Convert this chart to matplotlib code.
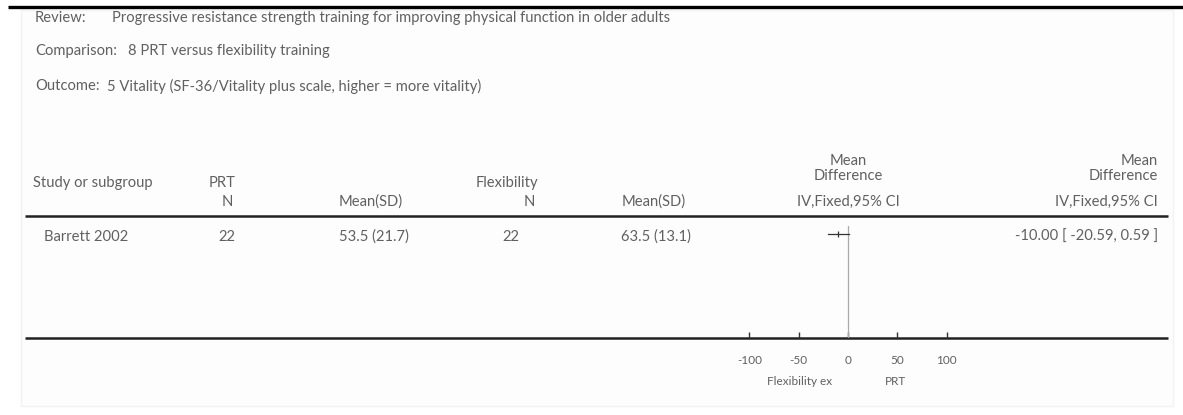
import matplotlib.pyplot as plt
from matplotlib.patches import Rectangle

review = 'Progressive resistance strength training for improving physical function in older adults'
comparison = '8 PRT versus flexibility training'
outcome = '5 Vitality (SF-36/Vitality plus scale, higher = more vitality)'

studies = ['Barrett 2002']
prt_n = [22]
prt_mean = [53.5]
prt_sd = [21.7]
flex_n = [22]
flex_mean = [63.5]
flex_sd = [13.1]
md = [-10.00]
ci_low = [-20.59]
ci_high = [0.59]

axis_ticks = [-100, -50, 0, 50, 100]
left_label = 'Flexibility ex'
right_label = 'PRT'

W, H = 1183, 415
plt.rcParams['font.family'] = ['Lato', 'DejaVu Sans']
txt = '#606060'
fs = 10.6

fig = plt.figure(figsize=(W / 100, H / 100), dpi=100)
ax = fig.add_axes([0, 0, 1, 1])
ax.set_xlim(0, W)
ax.set_ylim(H, 0)
ax.axis('off')

# frame
ax.plot([8, W], [7, 7], color='black', lw=2.4, solid_capstyle='butt')
ax.add_patch(Rectangle((21, 10), 1152, 396, facecolor='#fdfdfd', edgecolor='#f2f2f2', lw=1))

# header block
for y, lab, val, x2 in [(18, 'Review:', review, 112),
                        (51, 'Comparison:', comparison, 128),
                        (86, 'Outcome:', outcome, 107)]:
    ax.text(35, y, lab, color=txt, fontsize=fs, va='center')
    ax.text(x2, y, val, color=txt, fontsize=fs, va='center')

# column headers
ax.text(33, 183, 'Study or subgroup', color=txt, fontsize=fs, va='center')
ax.text(236, 183, 'PRT', color=txt, fontsize=fs, va='center', ha='right')
ax.text(538, 183, 'Flexibility', color=txt, fontsize=fs, va='center', ha='right')
ax.text(848, 161, 'Mean', color=txt, fontsize=fs, va='center', ha='center')
ax.text(848, 176, 'Difference', color=txt, fontsize=fs, va='center', ha='center')
ax.text(1158, 161, 'Mean', color=txt, fontsize=fs, va='center', ha='right')
ax.text(1158, 176, 'Difference', color=txt, fontsize=fs, va='center', ha='right')

ax.text(233, 202, 'N', color=txt, fontsize=fs, va='center', ha='right')
ax.text(371, 202, 'Mean(SD)', color=txt, fontsize=fs, va='center', ha='center')
ax.text(535, 202, 'N', color=txt, fontsize=fs, va='center', ha='right')
ax.text(654, 202, 'Mean(SD)', color=txt, fontsize=fs, va='center', ha='center')
ax.text(848, 202, 'IV,Fixed,95% CI', color=txt, fontsize=fs, va='center', ha='center')
ax.text(1158, 202, 'IV,Fixed,95% CI', color=txt, fontsize=fs, va='center', ha='right')

ax.plot([25, 1168], [216, 216], color='#222222', lw=1.8, solid_capstyle='butt')
ax.plot([25, 1168], [338, 338], color='#222222', lw=1.8, solid_capstyle='butt')

# study rows
row_y = [237]
for i, s in enumerate(studies):
    y = row_y[i]
    ax.text(86, y, s, color=txt, fontsize=fs, va='center', ha='center')
    ax.text(235, y, str(prt_n[i]), color=txt, fontsize=fs, va='center', ha='right')
    ax.text(374, y, f'{prt_mean[i]} ({prt_sd[i]})', color=txt, fontsize=fs, va='center', ha='center')
    ax.text(519, y, str(flex_n[i]), color=txt, fontsize=fs, va='center', ha='right')
    ax.text(656, y, f'{flex_mean[i]} ({flex_sd[i]})', color=txt, fontsize=fs, va='center', ha='center')
    ax.text(1158, y, f'{md[i]:.2f} [ {ci_low[i]:.2f}, {ci_high[i]:.2f} ]',
            color=txt, fontsize=fs, va='center', ha='right')

# forest plot panel, x in mean-difference units
fx0, fx1 = 700, 996
fy0, fy1 = 226, 338
axf = fig.add_axes([fx0 / W, 1 - fy1 / H, (fx1 - fx0) / W, (fy1 - fy0) / H])
axf.set_xlim(-150, 150)
axf.set_ylim(fy1, fy0)
axf.patch.set_alpha(0)
for sp in axf.spines.values():
    sp.set_visible(False)
axf.set_yticks([])
axf.set_xticks(axis_ticks)
axf.set_xticklabels([str(t) for t in axis_ticks])
axf.tick_params(axis='x', direction='in', length=4, width=1, color='#333333',
                labelsize=8.5, labelcolor=txt, pad=12)
axf.axvline(0, color='#aaaaaa', lw=0.9)
for i in range(len(studies)):
    y = row_y[i] - 3
    axf.plot([ci_low[i], ci_high[i]], [y, y], color='#333333', lw=0.9)
    axf.plot([md[i]], [y], marker='|', color='#333333', ms=4, mew=0.9)

ax.text(800, 381, left_label, color=txt, fontsize=8.5, va='center', ha='center')
ax.text(896, 381, right_label, color=txt, fontsize=8.5, va='center', ha='center')

fig.savefig('out.png', dpi=100)
